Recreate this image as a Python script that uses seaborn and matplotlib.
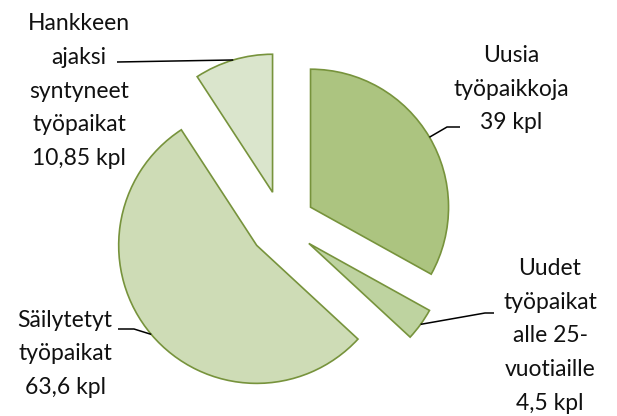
import numpy as np
import matplotlib
matplotlib.use("Agg")
import matplotlib.pyplot as plt
import seaborn as sns

# Data
labels = ["Uusia\ntyöpaikkoja\n39 kpl",
          "Uudet\ntyöpaikat\nalle 25-\nvuotiaille\n4,5 kpl",
          "Säilytetyt\ntyöpaikat\n63,6 kpl",
          "Hankkeen\najaksi\nsyntyneet\ntyöpaikat\n10,85 kpl"]
values = [39, 4.5, 63.6, 10.85]
colors = ["#ACC480", "#BED3A0", "#CEDCB6", "#DAE5CC"]

sns.set_theme(style="white")
plt.rcParams['font.family'] = ['Lato', 'DejaVu Sans']

W, H = 617, 416
CX, CY, R = 282, 224, 138.0

def p2d(px, py):
    return ((px - CX) / R, (CY - py) / R)

fig = plt.figure(figsize=(W / 100, H / 100), dpi=100)
ax = fig.add_axes([0, 0, 1, 1])

explode = 0.24
wedges, _ = ax.pie(values, startangle=90, counterclock=False,
                   explode=[explode] * len(values), colors=colors,
                   radius=1.0, center=(0, 0),
                   wedgeprops=dict(edgecolor="#77933C", linewidth=1.2))

ax.set_xlim(-CX / R, (W - CX) / R)
ax.set_ylim(-(H - CY) / R, CY / R)
ax.set_aspect("equal")
ax.axis("off")

# label positions (pixel centres) and leader elbows (pixel)
label_pos = [(511, 89), (550, 336), (65, 354), (79, 91)]
leaders = [[(447, 127), (460, 127)],
           [(485, 313), (494, 313)],
           [(134, 329), (118, 329)],
           [(117, 62)]]

for w, lab, lp, ld in zip(wedges, labels, label_pos, leaders):
    ang = np.deg2rad((w.theta1 + w.theta2) / 2)
    cx, cy = w.center
    ax_pt = (cx + w.r * np.cos(ang), cy + w.r * np.sin(ang))
    pts = [ax_pt] + [p2d(*q) for q in ld]
    xs, ys = zip(*pts)
    ax.plot(xs, ys, color="black", lw=1.1, solid_capstyle="butt")
    tx, ty = p2d(*lp)
    ax.text(tx, ty, lab, ha="center", va="center", fontsize=16.5,
            linespacing=1.74, color="#111111")

fig.savefig("out.png", dpi=100)
